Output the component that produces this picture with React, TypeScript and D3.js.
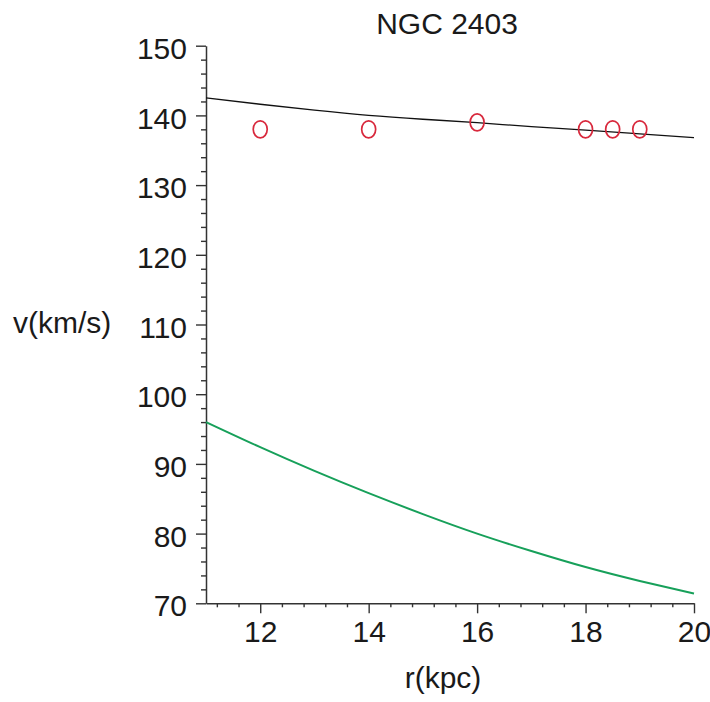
import React, { useEffect, useRef } from 'react'
import { axisBottom, axisLeft, scaleLinear, select, line, curveNatural, range } from 'd3'

// rotation curve
const radius = [11, 12, 13, 14, 15, 16, 17, 18, 19, 20]
const modelV = [142.5, 141.6, 140.75, 140.0, 139.45, 138.95, 138.4, 137.9, 137.35, 136.8]
const keplerV = [96.0, 92.4, 89.0, 85.8, 82.8, 80.0, 77.5, 75.2, 73.2, 71.4]

const obsR = [12, 14, 16, 18, 18.5, 19]
const obsV = [138, 138, 139, 138, 138, 138]

const xTicks = [12, 14, 16, 18, 20]
const yTicks = [70, 80, 90, 100, 110, 120, 130, 140, 150]

const FONT = '"Liberation Sans", Arial, Helvetica, sans-serif'

const App = () => {
  const svgRef = useRef<SVGSVGElement>(null)

  useEffect(() => {
    const svg = select(svgRef.current)
    svg.selectAll('*').remove()

    const xScale = scaleLinear().domain([11, 20]).range([206, 694])
    const yScale = scaleLinear().domain([70, 150]).range([603.3, 45.7])

    const xMinor = range(28, 51).filter(i => i % 5 !== 0).map(i => i * 0.4)
    const yMinor = range(70, 151, 2).filter(v => v % 10 !== 0)

    // minor ticks
    svg.append('g')
      .attr('transform', 'translate(0,603.3)')
      .call(axisBottom(xScale).tickValues(xMinor).tickSize(4).tickSizeOuter(0).tickFormat(() => ''))
      .call(g => g.select('.domain').remove())
    svg.append('g')
      .attr('transform', 'translate(206,0)')
      .call(axisLeft(yScale).tickValues(yMinor).tickSize(5).tickSizeOuter(0).tickFormat(() => ''))
      .call(g => g.select('.domain').remove())

    const xAxis = svg.append('g')
      .attr('transform', 'translate(0,603.3)')
      .call(axisBottom(xScale).tickValues(xTicks).tickSize(10).tickSizeOuter(0).tickPadding(7))
    const yAxis = svg.append('g')
      .attr('transform', 'translate(206,0)')
      .call(axisLeft(yScale).tickValues(yTicks).tickSize(10).tickSizeOuter(0).tickPadding(9))

    svg.selectAll('.tick line').attr('stroke', '#333').attr('stroke-width', 1.4)
    ;[xAxis, yAxis].forEach(a => {
      a.select('.domain').attr('stroke', '#333').attr('stroke-width', 1.5)
      a.selectAll('text')
        .attr('font-family', FONT)
        .attr('font-size', 30)
        .attr('fill', '#1a1a1a')
    })
    yAxis.selectAll('text').attr('dy', '0.42em')

    const path = line<number>()
      .x((_, i) => xScale(radius[i]))
      .y(d => yScale(d))
      .curve(curveNatural)

    svg.append('path')
      .datum(keplerV)
      .attr('d', path)
      .attr('fill', 'none')
      .attr('stroke', '#17a05a')
      .attr('stroke-width', 2)

    svg.append('path')
      .datum(modelV)
      .attr('d', path)
      .attr('fill', 'none')
      .attr('stroke', '#111')
      .attr('stroke-width', 1.3)

    svg.selectAll('.obs')
      .data(obsR)
      .join('ellipse')
      .attr('class', 'obs')
      .attr('cx', d => xScale(d))
      .attr('cy', (_, i) => yScale(obsV[i]))
      .attr('rx', 7)
      .attr('ry', 8.5)
      .attr('fill', 'none')
      .attr('stroke', '#d8283c')
      .attr('stroke-width', 1.7)

    const label = (x: number, y: number, t: string, anchor: string) =>
      svg.append('text')
        .attr('x', x)
        .attr('y', y)
        .attr('text-anchor', anchor)
        .attr('font-family', FONT)
        .attr('font-size', 30)
        .attr('fill', '#1a1a1a')
        .text(t)

    label(447, 34, 'NGC 2403', 'middle')
    label(13, 333, 'v(km/s)', 'start')
    label(443, 688, 'r(kpc)', 'middle')
  }, [])

  return (
    <svg
      ref={svgRef}
      width="710"
      height="702"
      viewBox="0 0 710 702"
      style={{ position: 'absolute', left: 0, top: 0, background: '#fff' }}
    />
  )
}

export default App
